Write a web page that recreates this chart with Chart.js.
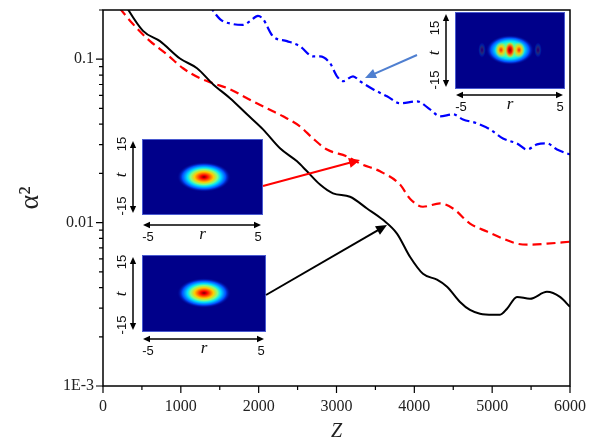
<!DOCTYPE html>
<html>
<head>
<meta charset="utf-8">
<script src="https://cdn.jsdelivr.net/npm/chart.js@4.4.1/dist/chart.umd.min.js"></script>
<style>
  body { margin: 0; background: #fff; }
  canvas { display: block; }
</style>
</head>
<body>
<canvas id="chart" width="597" height="445"></canvas>
<script>
// solid black curve
const zSolid = [200, 514, 732, 989, 1208, 1413, 1632, 1850, 2056, 2274, 2493, 2621, 2788, 2955, 3173, 3392, 3597, 3777, 3944, 4111, 4291, 4420, 4587, 4715, 4844, 5011, 5101, 5191, 5319, 5486, 5704, 5871, 6000]
const aSolid = [0.25, 0.149, 0.129, 0.101, 0.088, 0.0703, 0.0577, 0.046, 0.0372, 0.0285, 0.0237, 0.0206, 0.0171, 0.0151, 0.0144, 0.0122, 0.0104, 0.00857, 0.00618, 0.00486, 0.00447, 0.00405, 0.00327, 0.00292, 0.00277, 0.00273, 0.00273, 0.00297, 0.00351, 0.00342, 0.00377, 0.00351, 0.00305]

// red dashed curve
const zDash = [100, 385, 604, 822, 1028, 1246, 1413, 1632, 1850, 2107, 2313, 2531, 2698, 2878, 3135, 3302, 3559, 3816, 3944, 4111, 4330, 4497, 4715, 4934, 5139, 5319, 5486, 5704, 6000]
const aDash = [0.24, 0.164, 0.129, 0.107, 0.088, 0.0764, 0.0713, 0.0655, 0.0577, 0.05, 0.0447, 0.0388, 0.0327, 0.028, 0.0254, 0.023, 0.0206, 0.0171, 0.014, 0.0125, 0.0131, 0.0122, 0.00986, 0.00881, 0.00798, 0.00743, 0.00733, 0.00743, 0.00764]

// blue dash-dot curve
const zDot = [1300, 1503, 1670, 1799, 1889, 1991, 2056, 2184, 2364, 2531, 2698, 2788, 2917, 3006, 3083, 3212, 3302, 3469, 3649, 3816, 4034, 4201, 4330, 4497, 4625, 4805, 4972, 5139, 5319, 5448, 5576, 5704, 5833, 6000]
const aDot = [0.24, 0.176, 0.164, 0.162, 0.171, 0.184, 0.176, 0.138, 0.129, 0.12, 0.104, 0.104, 0.0945, 0.0786, 0.0733, 0.0786, 0.0733, 0.0655, 0.0593, 0.0537, 0.0552, 0.0493, 0.0447, 0.046, 0.0428, 0.0405, 0.0372, 0.0327, 0.0305, 0.028, 0.0301, 0.0305, 0.028, 0.0261]

const yTickValues = [0.001, 0.01, 0.1]
const yTickLabels = ['1E-3', '0.01', '0.1']

const toPoints = (xs, ys) => xs.map((x, i) => ({ x: x, y: ys[i] }))

const jetStops = [
  [0, '#7a0000'],
  [0.12, '#ff0000'],
  [0.35, '#ffcc00'],
  [0.5, '#80ff80'],
  [0.62, '#00e0ff'],
  [0.8, '#0050ff'],
  [1, 'rgba(0,0,138,0)']
]

function blob(ctx, cx, cy, rx, ry, stops) {
  ctx.save()
  ctx.translate(cx, cy)
  ctx.scale(rx / ry, 1)
  const g = ctx.createRadialGradient(0, 0, 0, 0, 0, ry)
  ;(stops || jetStops).forEach(([s, c]) => g.addColorStop(s, c))
  ctx.fillStyle = g
  ctx.beginPath()
  ctx.arc(0, 0, ry, 0, Math.PI * 2)
  ctx.fill()
  ctx.restore()
}

function arrow(ctx, x1, y1, x2, y2, color, width, head, both) {
  ctx.save()
  ctx.strokeStyle = color
  ctx.fillStyle = color
  ctx.lineWidth = width
  const ang = Math.atan2(y2 - y1, x2 - x1)
  const w = head * 0.45
  ctx.beginPath()
  ctx.moveTo(both ? x1 + Math.cos(ang) * head * 0.8 : x1, both ? y1 + Math.sin(ang) * head * 0.8 : y1)
  ctx.lineTo(x2 - Math.cos(ang) * head * 0.8, y2 - Math.sin(ang) * head * 0.8)
  ctx.stroke()
  const tip = (x, y, a) => {
    ctx.beginPath()
    ctx.moveTo(x, y)
    ctx.lineTo(x - head * Math.cos(a) + w * Math.sin(a), y - head * Math.sin(a) - w * Math.cos(a))
    ctx.lineTo(x - head * Math.cos(a) - w * Math.sin(a), y - head * Math.sin(a) + w * Math.cos(a))
    ctx.closePath()
    ctx.fill()
  }
  tip(x2, y2, ang)
  if (both) tip(x1, y1, ang + Math.PI)
  ctx.restore()
}

function inset(ctx, box, vx, hy, labels) {
  ctx.save()
  ctx.fillStyle = '#00008a'
  ctx.fillRect(box.x, box.y, box.w, box.h)
  ctx.strokeStyle = '#4a5ad0'
  ctx.lineWidth = 1
  ctx.strokeRect(box.x + 0.5, box.y + 0.5, box.w - 1, box.h - 1)
  ctx.beginPath()
  ctx.rect(box.x + 1, box.y + 1, box.w - 2, box.h - 2)
  ctx.clip()
  box.draw(ctx)
  ctx.restore()

  arrow(ctx, vx, box.y + 2, vx, box.y + box.h - 2, '#000', 1.5, 7, true)
  arrow(ctx, box.x + 1, hy, box.x + box.w - 2, hy, '#000', 1.5, 7, true)

  ctx.save()
  ctx.fillStyle = '#111'
  ctx.textAlign = 'center'
  ctx.textBaseline = 'middle'
  const tx = vx - 11
  const rot = (text, y, font) => {
    ctx.save()
    ctx.translate(tx, y)
    ctx.rotate(-Math.PI / 2)
    ctx.font = font
    ctx.fillText(text, 0, 0)
    ctx.restore()
  }
  rot('15', labels.t15, '13px "Liberation Sans"')
  rot('t', labels.tt, 'italic 17px "Liberation Serif"')
  rot('-15', labels.tm15, '13px "Liberation Sans"')
  ctx.font = '13px "Liberation Sans"'
  ctx.fillText('-5', box.x + 6, hy + 12)
  ctx.fillText('5', box.x + box.w - 5, hy + 12)
  ctx.font = 'italic 17px "Liberation Serif"'
  ctx.fillText('r', box.x + box.w / 2, hy + 10)
  ctx.restore()
}

const lobeStops = [
  [0, '#ff2000'],
  [0.45, 'rgba(255,200,0,0.9)'],
  [1, 'rgba(255,230,0,0)']
]
const coreStops = [
  [0, '#8a0000'],
  [0.4, '#ff1000'],
  [0.75, 'rgba(255,160,0,0.7)'],
  [1, 'rgba(255,220,0,0)']
]

const decor = {
  id: 'decor',
  afterDraw(chart) {
    const { ctx, chartArea: a, scales: { x, y } } = chart
    ctx.save()
    ctx.strokeStyle = '#000'
    ctx.lineWidth = 1.5
    ctx.strokeRect(a.left, a.top, a.right - a.left, a.bottom - a.top)

    // y tick marks (major + minor)
    ctx.lineWidth = 1.2
    ctx.beginPath()
    for (let e = -3; e <= -1; e++) {
      for (let m = 1; m <= 9; m++) {
        const v = m * Math.pow(10, e)
        if (v > y.max) continue
        const py = y.getPixelForValue(v)
        ctx.moveTo(a.left, py)
        ctx.lineTo(a.left - (m === 1 ? 7 : 4), py)
      }
    }
    // x tick marks
    for (let v = 0; v <= 6000; v += 500) {
      const px = x.getPixelForValue(v)
      ctx.moveTo(px, a.bottom)
      ctx.lineTo(px, a.bottom + (v % 1000 === 0 ? 7 : 4))
    }
    ctx.stroke()
    ctx.restore()

    // insets
    inset(ctx, {
      x: 455, y: 12, w: 110, h: 77,
      draw(c) {
        c.globalAlpha = 0.15
        blob(c, 482, 50, 4, 8)
        blob(c, 538, 50, 4, 8)
        c.globalAlpha = 1
        blob(c, 510, 50, 24, 15, [
          [0, '#60ff90'], [0.45, '#40ffb0'], [0.6, '#00e0ff'], [0.8, '#0050ff'], [1, 'rgba(0,0,138,0)']
        ])
        blob(c, 501, 50, 6, 8, lobeStops)
        blob(c, 519, 50, 6, 8, lobeStops)
        blob(c, 510, 50, 5, 8, coreStops)
      }
    }, 446, 95, { t15: 28, tt: 53, tm15: 80 })

    inset(ctx, {
      x: 142, y: 139, w: 121, h: 76,
      draw(c) { blob(c, 204, 177, 27, 15) }
    }, 133, 225, { t15: 144, tt: 175, tm15: 206 })

    inset(ctx, {
      x: 142, y: 255, w: 124, h: 77,
      draw(c) { blob(c, 204, 293, 27, 15) }
    }, 133, 339, { t15: 262, tt: 294, tm15: 325 })

    // pointer arrows
    arrow(ctx, 263, 186, 360, 160, '#ff0000', 2, 11, false)
    arrow(ctx, 266, 295, 387, 225, '#000', 2, 11, false)
    arrow(ctx, 417, 55, 365, 78, '#4f7fd0', 2, 11, false)
  }
}

new Chart(document.getElementById('chart').getContext('2d'), {
  type: 'line',
  data: {
    datasets: [
      {
        data: toPoints(zSolid, aSolid),
        borderColor: '#000',
        borderWidth: 2,
        cubicInterpolationMode: 'monotone'
      },
      {
        data: toPoints(zDash, aDash),
        borderColor: '#ff0000',
        borderWidth: 2.2,
        borderDash: [9, 5],
        cubicInterpolationMode: 'monotone'
      },
      {
        data: toPoints(zDot, aDot),
        borderColor: '#0000ff',
        borderWidth: 2.2,
        borderDash: [10, 4, 3, 4],
        cubicInterpolationMode: 'monotone'
      }
    ]
  },
  options: {
    responsive: false,
    animation: false,
    layout: { padding: { top: 10, right: 27, left: 0, bottom: 0 } },
    elements: { point: { radius: 0 } },
    plugins: { legend: { display: false }, tooltip: { enabled: false } },
    scales: {
      x: {
        type: 'linear',
        min: 0,
        max: 6000,
        grid: { display: false, drawTicks: false },
        border: { display: false },
        ticks: {
          stepSize: 1000,
          padding: 11,
          color: '#222',
          font: { family: 'Liberation Serif', size: 16 },
          callback: (value) => String(value)
        },
        title: {
          display: true,
          text: 'Z',
          color: '#222',
          padding: { top: 0, bottom: 1 },
          font: { family: 'Liberation Serif', size: 20, style: 'italic' }
        },
        afterFit: (scale) => {
          scale.height = 59
          scale.paddingLeft = 0
          scale.paddingRight = 0
        }
      },
      y: {
        type: 'logarithmic',
        min: 0.001,
        max: 0.2,
        grid: { display: false, drawTicks: false },
        border: { display: false },
        afterBuildTicks: (scale) => {
          scale.ticks = yTickValues.map((v) => ({ value: v }))
        },
        ticks: {
          padding: 9,
          color: '#222',
          font: { family: 'Liberation Serif', size: 16 },
          callback: (value) => {
            const i = yTickValues.indexOf(value)
            return i >= 0 ? yTickLabels[i] : ''
          }
        },
        title: {
          display: true,
          text: 'α²',
          color: '#222',
          padding: { top: 14, bottom: 0 },
          font: { family: 'Liberation Serif', size: 28 }
        },
        afterFit: (scale) => {
          scale.width = 103
          scale.paddingTop = 0
          scale.paddingBottom = 0
        }
      }
    }
  },
  plugins: [decor]
})
</script>
</body>
</html>
